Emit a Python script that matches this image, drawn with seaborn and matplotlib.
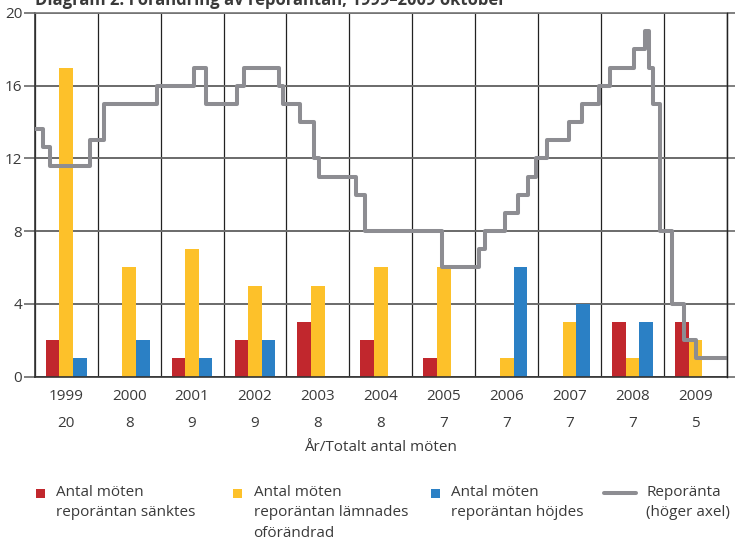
import numpy as np
import pandas as pd
import matplotlib
matplotlib.use('Agg')
import matplotlib.pyplot as plt
from matplotlib.patches import Rectangle
from matplotlib.lines import Line2D
import seaborn as sns

# antal möten per år
years = [1999, 2000, 2001, 2002, 2003, 2004, 2005, 2006, 2007, 2008, 2009]
sankt = [2, 0, 1, 2, 3, 2, 1, 0, 0, 3, 3]
oforandrad = [17, 6, 7, 5, 5, 6, 6, 1, 3, 1, 2]
hojd = [1, 2, 1, 2, 0, 0, 0, 6, 4, 3, 0]
totalt = [20, 8, 9, 9, 8, 8, 7, 7, 7, 7, 5]

# reporäntan (procent), datum för ändringar
repo_datum = ['1999-01-01', '1999-02-17', '1999-03-31', '1999-11-17', '2000-02-09',
              '2000-12-13', '2001-07-11', '2001-09-19', '2002-03-20', '2002-05-02',
              '2002-11-20', '2002-12-11', '2003-03-19', '2003-06-11', '2003-07-09',
              '2004-02-11', '2004-03-31', '2005-06-22', '2006-01-25', '2006-02-28',
              '2006-06-21', '2006-09-06', '2006-10-31', '2006-12-20', '2007-02-21',
              '2007-06-27', '2007-09-12', '2007-12-19', '2008-02-20', '2008-07-09',
              '2008-09-10', '2008-10-08', '2008-10-29', '2008-12-10', '2009-02-18',
              '2009-04-29', '2009-07-08', '2010-01-01']
repo_ranta = [3.40, 3.15, 2.90, 3.25, 3.75,
              4.00, 4.25, 3.75, 4.00, 4.25,
              4.00, 3.75, 3.50, 3.00, 2.75,
              2.50, 2.00, 1.50, 1.75, 2.00,
              2.25, 2.50, 2.75, 3.00, 3.25,
              3.50, 3.75, 4.00, 4.25, 4.50,
              4.75, 4.25, 3.75, 2.00, 1.00,
              0.50, 0.25, 0.25]

typer = ['Antal möten\nreporäntan sänktes',
         'Antal möten\nreporäntan lämnades\noförändrad',
         'Antal möten\nreporäntan höjdes']
farger = ['#c1272d', '#fdc12a', '#2b80c5']
gra = '#8d8d92'
textfarg = '#3a3a3a'

sns.set_style('white')
plt.rcParams['font.family'] = ['Open Sans', 'DejaVu Sans']
plt.rcParams['font.size'] = 11

df = pd.DataFrame({'year': [str(y) for y in years],
                   typer[0]: sankt, typer[1]: oforandrad, typer[2]: hojd})
df_long = df.melt(id_vars='year', var_name='typ', value_name='antal')

W, H = 738, 540
fig, ax = plt.subplots(figsize=(W / 100, H / 100), dpi=100)
fig.subplots_adjust(left=34.7 / W, right=727 / W, bottom=1 - 376.5 / H, top=1 - 13 / H)

sns.barplot(data=df_long, x='year', y='antal', hue='typ', hue_order=typer,
            palette=farger, width=0.65, linewidth=0, errorbar=None,
            saturation=1, legend=False, ax=ax)

ax.set_xlim(-0.5, len(years) - 0.5)
ax.set_ylim(0, 20)
ax.set_yticks(np.arange(0, 21, 4))
ax.set_xticks(np.arange(len(years)))
ax.set_xticklabels([f'{y}\n{t}' for y, t in zip(years, totalt)], linespacing=2.05)
ax.set_xticks(np.arange(-0.5, len(years), 1), minor=True)
ax.set_axisbelow(True)
ax.grid(False)
ax.grid(which='minor', axis='x', color='#222222', linewidth=0.9)
ax.grid(which='major', axis='y', color='#6a6a6a', linewidth=1.4)
ax.tick_params(axis='x', which='both', length=0, pad=9, colors=textfarg, labelsize=11)
ax.tick_params(axis='y', length=8, width=1.2, color='#6a6a6a', pad=1,
               labelcolor=textfarg, labelsize=11)
ax.set_xlabel('År/Totalt antal möten', color=textfarg, fontsize=11, labelpad=7)
ax.set_ylabel('')
for s in ['left', 'bottom']:
    ax.spines[s].set_color('#333333')
    ax.spines[s].set_linewidth(1.2)
ax.spines['top'].set_color('#777777')
ax.spines['top'].set_linewidth(1.2)

# reporäntan på höger axel
d = pd.to_datetime(repo_datum)
dec = d.year + (d.dayofyear - 1) / np.where(d.is_leap_year, 366, 365)
repo_x = np.asarray(dec) - years[0] - 0.5

ax2 = ax.twinx()
sns.lineplot(x=repo_x, y=repo_ranta, drawstyle='steps-post', color=gra,
             linewidth=2.9, estimator=None, sort=False, ax=ax2)
ax2.set_ylim(0, 5)
ax2.set_yticks(np.arange(0, 6, 1))
ax2.set_ylabel('')
ax2.set_xlabel('')
ax2.tick_params(axis='y', length=6, width=1.2, color='#6a6a6a', pad=2,
                labelcolor=textfarg, labelsize=11)
ax2.spines['right'].set_color('#222222')
ax2.spines['right'].set_linewidth(1.0)
ax2.spines['top'].set_visible(False)
ax2.spines['left'].set_visible(False)
ax2.spines['bottom'].set_visible(False)

fig.text(34.7 / W, 1 - 5 / H, 'Diagram 2. Förändring av reporäntan, 1999–2009 oktober',
         fontsize=12, fontweight='bold', color=textfarg, va='baseline')

# förklaring
def px(x, y):
    return x / W, 1 - y / H

leg_x = [35.5, 233.5, 431]
for x0, lab, c in zip(leg_x, typer, farger):
    fig.add_artist(Rectangle(px(x0, 498), 9 / W, 9.5 / H, transform=fig.transFigure,
                             facecolor=c, edgecolor='none'))
    fig.text(*px(x0 + 20, 485), lab, va='top', ha='left', fontsize=11,
             color=textfarg, linespacing=1.5)
fig.add_artist(Line2D([604 / W, 636 / W], [1 - 493 / H] * 2, transform=fig.transFigure,
                      color=gra, linewidth=2.9))
fig.text(*px(646, 485), 'Reporänta\n(höger axel)', va='top', ha='left', fontsize=11,
         color=textfarg, linespacing=1.5)

fig.savefig('out.png', dpi=100)
